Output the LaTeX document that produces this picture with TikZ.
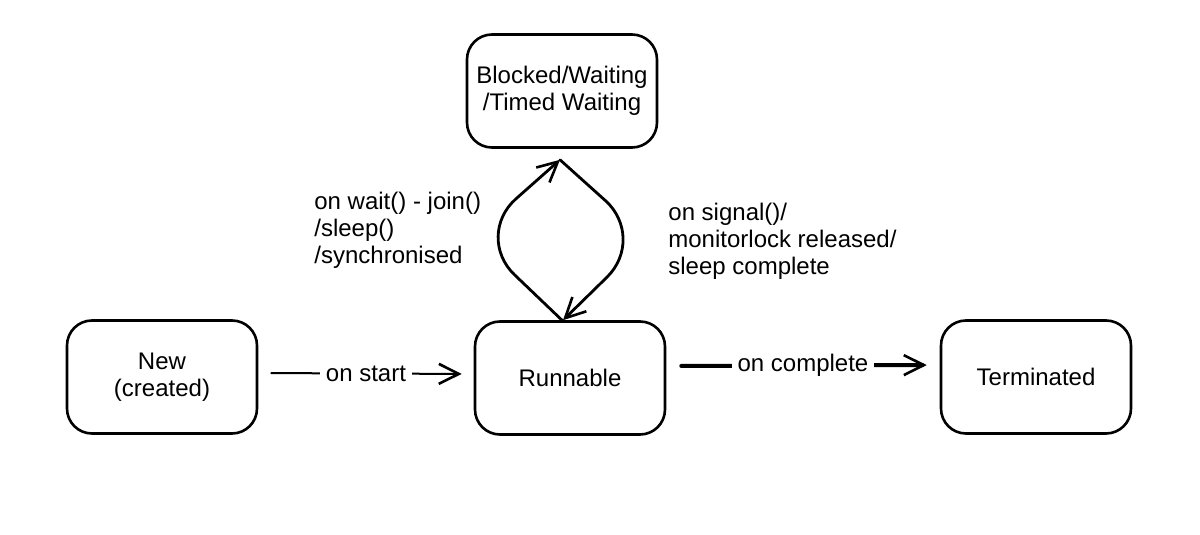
\documentclass[tikz,border=0pt]{standalone}
\usepackage{fontspec}
\setmainfont{Liberation Sans}
\usetikzlibrary{arrows.meta}
\begin{document}
\begin{tikzpicture}[x=0.5pt,y=-0.5pt,
  every node/.style={font=\fontsize{12}{13.5}\selectfont},
  state/.style={draw=black,line width=1.3pt,rounded corners=12.5pt,
    minimum width=95pt,minimum height=56.5pt,align=center,inner sep=2pt},
  lbl/.style={fill=white,inner sep=3pt},
  side/.style={align=left,inner sep=0pt,anchor=west},
  arr/.style={-{Straight Barb[length=10pt,width=10pt,line width=1.3pt]},line cap=round}
]
\useasboundingbox (0,0) rectangle (1200,535);
\fill[white] (0,0) rectangle (1200,535);

\node[state] (blk) at (562,91) {Blocked/Waiting\\/Timed Waiting};
\node[state] (new) at (162,377) {New\\(created)};
\node[state] (run) at (570,378) {Runnable};
\node[state] (term) at (1036,377) {Terminated};

\coordinate (lbend) at (474,236);
\coordinate (rbend) at (647,238);

% New -> Runnable
\draw[arr,line width=1pt,shorten <=6.5pt,shorten >=6pt]
  ([yshift=2pt]new.east) -- node[lbl] (lstart) {on start} ([yshift=2pt]run.west);

% Runnable -> Terminated
\draw[arr,line width=2pt,shorten <=7.5pt,shorten >=6.5pt]
  ([yshift=6pt]run.east) -- node[lbl] (lcomp) {on complete} ([yshift=6pt]term.west);

% Runnable -> Blocked (left curve)
\draw[arr,line width=1.4pt,rounded corners=28pt]
  ([xshift=-4pt]run.north) -- (lbend) -- ([xshift=-1pt,yshift=-5.5pt]blk.south);

% Blocked -> Runnable (right curve)
\draw[arr,line width=1.4pt,rounded corners=28pt]
  ([xshift=-1pt,yshift=-5.5pt]blk.south) -- (rbend) -- ([xshift=-3.5pt]run.north);

\node[side] (lwait) at (314,230) {on wait() - join()\\/sleep()\\/synchronised};
\node[side] (lsig) at (668,241) {on signal()/\\monitorlock released/\\sleep complete};
\end{tikzpicture}
\end{document}
